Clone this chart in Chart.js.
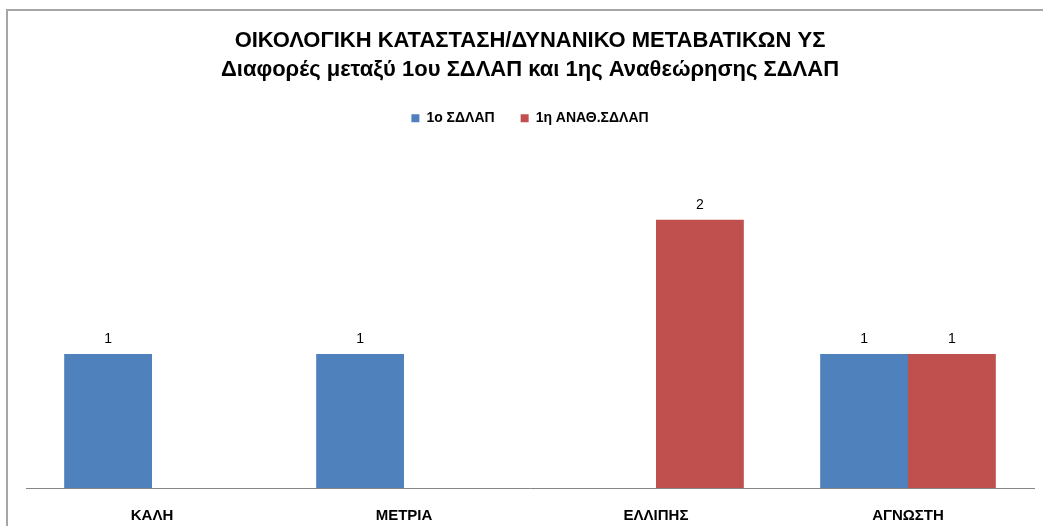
<!DOCTYPE html>
<html>
<head>
<meta charset="utf-8">
<script src="https://cdn.jsdelivr.net/npm/chart.js@4/dist/chart.umd.min.js"></script>
<style>
    body { margin: 0; background: #fff; }
    #wrap { position: relative; width: 1043px; height: 526px; overflow: hidden; }
    #frame {
        position: absolute; left: 6px; top: 9px; width: 1100px; height: 600px;
        border-left: 2px solid #a6a6a6; border-top: 2px solid #a6a6a6;
    }
    #chart { position: absolute; left: 0; top: 0; }
</style>
</head>
<body>
<div id="wrap">
    <div id="frame"></div>
    <!-- canvas is a bit taller than the frame, the x axis keeps double tick padding -->
    <canvas id="chart" width="1043" height="544"></canvas>
</div>
<script>
const categories = ['ΚΑΛΗ', 'ΜΕΤΡΙΑ', 'ΕΛΛΙΠΗΣ', 'ΑΓΝΩΣΤΗ']
const seriesNames = ['1ο ΣΔΛΑΠ', '1η ΑΝΑΘ.ΣΔΛΑΠ']
const firstPlan = [1, 1, 0, 1]
const firstReview = [0, 0, 2, 1]
const titleLines = ['ΟΙΚΟΛΟΓΙΚΗ ΚΑΤΑΣΤΑΣΗ/ΔΥΝΑΝΙΚΟ ΜΕΤΑΒΑΤΙΚΩΝ ΥΣ', 'Διαφορές μεταξύ 1ου ΣΔΛΑΠ και 1ης Αναθεώρησης ΣΔΛΑΠ']

Chart.defaults.font.family = '"Liberation Sans", Arial, sans-serif'
Chart.defaults.color = '#000'

// value labels above the bars, zero values are skipped
const valueLabels = {
    id: 'valueLabels',
    afterDatasetsDraw(chart) {
        const ctx = chart.ctx
        ctx.save()
        ctx.font = '14px "Liberation Sans", Arial, sans-serif'
        ctx.fillStyle = '#000'
        ctx.textAlign = 'center'
        ctx.textBaseline = 'middle'
        chart.data.datasets.forEach((ds, i) => {
            chart.getDatasetMeta(i).data.forEach((bar, j) => {
                if (!ds.data[j]) return
                ctx.fillText(ds.data[j], bar.x, bar.y - 15)
            })
        })
        ctx.restore()
    }
}

new Chart('chart', {
    type: 'bar',
    data: {
        labels: categories,
        datasets: [{
            label: seriesNames[0],
            data: firstPlan,
            backgroundColor: '#4f81bd',
            borderWidth: 0
        }, {
            label: seriesNames[1],
            data: firstReview,
            backgroundColor: '#c0504d',
            borderWidth: 0
        }]
    },
    options: {
        responsive: false,
        animation: false,
        layout: { padding: { left: 26, right: 9, top: 0, bottom: 0 } },
        datasets: { bar: { categoryPercentage: 0.697, barPercentage: 1 } },
        plugins: {
            title: {
                display: true,
                text: titleLines,
                color: '#000',
                font: { size: 22, weight: 'bold', lineHeight: 1.36 },
                padding: { top: 25.5, bottom: 0 }
            },
            legend: {
                position: 'top',
                labels: {
                    boxWidth: 8,
                    boxHeight: 8,
                    padding: 26,
                    color: '#000',
                    font: { size: 14, weight: 'bold' }
                }
            },
            tooltip: { enabled: false }
        },
        scales: {
            x: {
                grid: { display: false, drawTicks: false },
                border: { display: true, color: '#868686', width: 1 },
                ticks: { padding: 19, font: { size: 15, weight: 'bold' }, color: '#000' }
            },
            y: {
                display: false,
                min: 0,
                max: 2.63
            }
        }
    },
    plugins: [valueLabels]
})
</script>
</body>
</html>
